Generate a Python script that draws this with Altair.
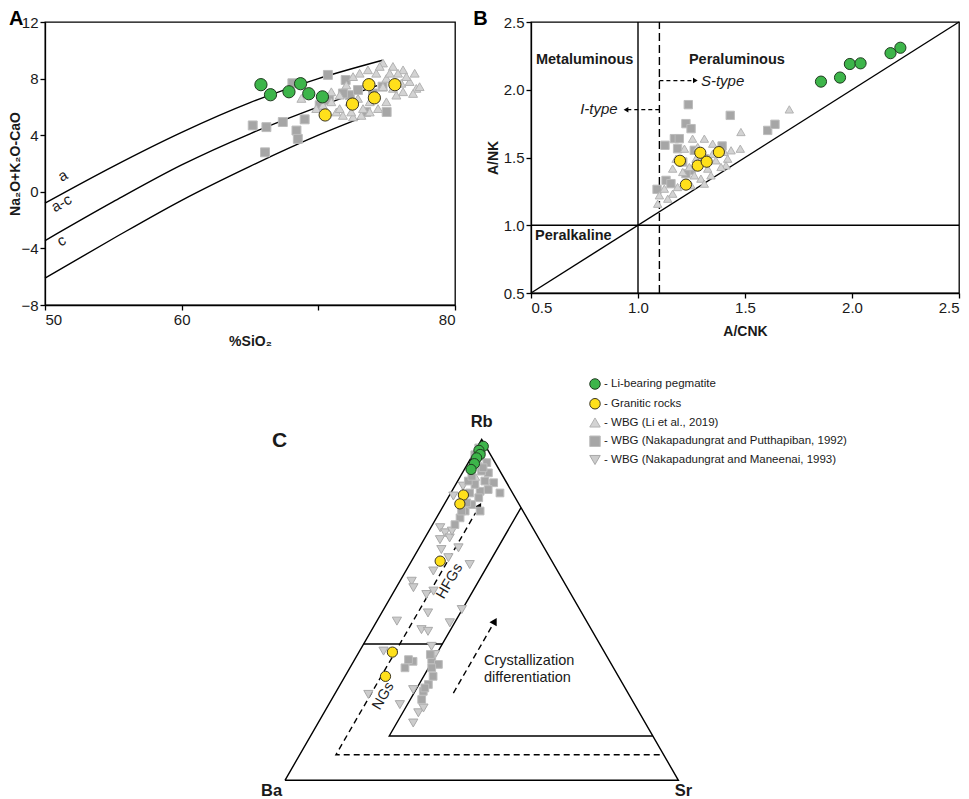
import altair as alt
import pandas as pd

FONT = "Liberation Sans"

GROUPS = ["Li-bearing pegmatite", "Granitic rocks", "WBG (Li et al., 2019)",
          "WBG (Nakapadungrat and Putthapiban, 1992)", "WBG (Nakapadungrat and Maneenai, 1993)"]
FILLS = ["#3db54a", "#ffe01b", "#d3d3d3", "#a6a6a6", "#cccccc"]
STROKES = ["#1f3a1f", "#3b3520", "#b3b3b3", "#bdbdbd", "#a9a9a9"]
SHAPES = ["circle", "circle", "triangle-up", "square", "triangle-down"]

# ---------------- Panel A : MALI vs SiO2 ----------------
A_PEG_SIO2 = [65.8, 66.5, 67.85, 68.7, 69.3, 70.3]
A_PEG_MALI = [7.57, 6.86, 7.07, 7.64, 6.93, 6.71]
A_GRAN_SIO2 = [70.5, 72.5, 73.7, 74.1, 75.6]
A_GRAN_MALI = [5.43, 6.2, 7.57, 6.64, 7.57]
A_PUT_SIO2 = [65.2, 66.2, 67.4, 68.4, 68.5, 69.0, 66.1, 70.7, 68.1, 72.0, 72.3, 72.9, 71.8,
              70.1, 70.8, 73.5, 74.7, 75.0, 74.0]
A_PUT_MALI = [4.69, 4.57, 4.93, 4.33, 3.74, 5.12, 2.79, 8.26, 7.67, 7.9, 6.83, 7.19, 6.95,
              6.12, 6.48, 5.64, 7.43, 5.64, 6.95]
A_LI_SIO2 = [74.73, 75.46, 76.20, 77.05, 76.68, 77.17, 76.20, 75.71, 74.98, 74.24, 73.63, 73.02,
             72.54, 72.05, 71.56, 70.95, 70.34, 69.85, 71.32, 71.80, 72.54, 73.15, 73.76, 74.37,
             74.98, 75.46, 76.44, 75.83, 72.90, 72.29, 70.95, 68.76, 74.49, 75.22, 77.41, 76.93,
             73.76, 73.27, 71.56, 70.59, 72.41, 74.73, 76.07]
A_LI_MALI = [9.10, 8.86, 8.62, 8.38, 7.79, 7.31, 7.07, 6.83, 8.02, 8.38, 8.62, 8.38,
             8.14, 7.55, 6.83, 6.36, 6.12, 5.88, 5.64, 5.40, 5.29, 5.40, 5.64, 5.88,
             6.36, 7.31, 8.14, 8.38, 6.60, 6.36, 7.07, 6.60, 8.86, 8.38, 7.43, 6.95,
             6.36, 5.88, 5.88, 5.64, 5.64, 7.43, 7.67]
LINE_A_SIO2 = [50, 55, 60, 65, 70, 74.7]
LINE_A_MALI = [-0.8, 1.8, 4.2, 6.3, 8.0, 9.3]
LINE_AC_SIO2 = [50, 55, 60, 65, 70, 74.3]
LINE_AC_MALI = [-3.45, -0.7, 1.9, 4.1, 6.0, 7.5]
LINE_C_SIO2 = [50, 55, 60, 65, 70, 73.6]
LINE_C_MALI = [-6.1, -3.3, -0.6, 1.8, 4.0, 5.4]
A_LINE_LABELS = ["a", "a-c", "c"]
A_LABEL_SIO2 = [51.3, 51.2, 51.2]
A_LABEL_MALI = [1.15, -0.8, -3.45]

# ---------------- Panel B : A/NK vs A/CNK ----------------
B_PEG_ACNK = [1.855, 1.944, 1.99, 2.04, 2.18, 2.226]
B_PEG_ANK = [2.06, 2.09, 2.19, 2.195, 2.27, 2.31]
B_GRAN_ACNK = [1.196, 1.224, 1.291, 1.279, 1.321, 1.378]
B_GRAN_ANK = [1.476, 1.30, 1.535, 1.44, 1.469, 1.54]
B_PUT_ACNK = [1.235, 1.431, 1.224, 1.248, 1.170, 1.193, 1.126, 1.606, 1.640, 1.089, 1.131,
              1.393, 1.185, 1.248, 1.154, 1.209, 1.310, 1.263, 1.224]
B_PUT_ANK = [1.89, 1.811, 1.750, 1.713, 1.639, 1.639, 1.590, 1.700, 1.745, 1.265, 1.331,
             1.585, 1.565, 1.405, 1.307, 1.467, 1.491, 1.553, 1.381]
B_LI_ACNK = [1.707, 1.481, 1.478, 1.092, 1.100, 1.123, 1.162, 1.162, 1.178, 1.217, 1.255, 1.310,
             1.349, 1.403, 1.419, 1.411, 1.341, 1.294, 1.263, 1.209, 1.326, 1.364, 1.271, 1.240,
             1.139, 1.185, 1.310, 1.388, 1.435, 1.279, 1.248, 1.349]
B_LI_ANK = [1.855, 1.688, 1.565, 1.159, 1.221, 1.270, 1.233, 1.418, 1.491, 1.565, 1.639, 1.639,
            1.602, 1.541, 1.491, 1.442, 1.368, 1.344, 1.368, 1.393, 1.418, 1.479, 1.491, 1.430,
            1.196, 1.282, 1.307, 1.430, 1.553, 1.578, 1.295, 1.528]
B_REGIONS = ["Metaluminous", "Peraluminous", "Peralkaline"]
B_REGION_X = [0.523, 1.238, 0.519]
B_REGION_Y = [2.217, 2.217, 0.918]

# ---------------- Panel C : Rb-Ba-Sr ternary (percent) ----------------
C_PEG_RB = [98.0, 96.8, 95.6, 94.6, 92.9, 91.2]
C_PEG_SR = [1.4, 0.9, 1.8, 1.4, 1.7, 1.7]
C_GRAN_RB = [83.7, 81.1, 64.3, 37.6, 30.5]
C_GRAN_SR = [3.5, 3.9, 7.3, 8.5, 10.3]
C_LI_RB = [97.0, 95.0, 93.0, 91.0, 89.0, 88.0, 86.0, 92.0]
C_LI_SR = [1.5, 2.5, 3.0, 5.5, 4.0, 7.5, 8.5, 1.0]
C_PUT_RB = [97.5, 95.5, 93.6, 93.2, 90.2, 87.3, 84.3, 85.3, 84.8, 86.8, 87.8, 84.3, 82.9, 79.0,
            79.0, 77.0, 75.0, 80.9, 87.8, 90.7, 91.7, 81.4, 79.0, 89.2,
            33.0, 34.9, 35.4, 35.4, 34.0, 30.5, 28.1, 26.1, 23.7, 27.1, 33.0, 36.9]
C_PUT_SR = [0.5, 0.5, 1.9, 4.7, 6.6, 9.4, 12.5, 9.0, 7.2, 4.9, 2.7, 4.8, 7.8, 10.1,
            6.3, 6.0, 5.7, 7.0, 6.9, 4.6, 4.5, 5.5, 5.4, 2.9,
            14.0, 15.1, 13.7, 19.6, 22.0, 22.4, 22.4, 22.1, 22.9, 22.0, 20.8, 18.5]
C_MAN_RB = [86.3, 83.4, 74.1, 72.6, 71.1, 68.2, 67.7, 65.3, 61.4, 63.3, 58.4, 56.5, 54.5, 49.1,
            46.7, 44.2, 43.7, 46.2, 50.1, 39.3, 36.9, 37.9, 26.6, 22.2, 25.2, 19.8, 16.8, 21.2,
            55.5, 73.1, 70.6]
C_MAN_SR = [2.1, 1.1, 2.4, 4.4, 6.3, 10.0, 5.9, 8.9, 7.0, 15.3, 3.0, 4.4, 8.7, 11.8,
            5.1, 12.6, 14.5, 18.8, 19.9, 17.6, 19.7, 6.1, 19.3, 18.1, 8.6, 24.0, 24.2, 24.6,
            10.0, 5.9, 4.1]
# field boundaries (Rb %, Sr %)
C_SOLID = {"outer": [(0, 0), (100, 0), (0, 100), (0, 0)],
           "inner": [(80, 20), (13, 20), (13, 87)],
           "divide": [(40, 0), (40, 20)]}
C_DASHED = {"trend": [(7.5, 91.5), (7.5, 9.2), (78.5, 9.2)],
            "cryst": [(25.6, 30.0), (45.0, 30.0)]}
C_HEADS_RB = [80.4, 46.7]
C_HEADS_SR = [9.2, 30.0]

# ---------------- shared encodings ----------------
FILL_SCALE = alt.Scale(domain=GROUPS, range=FILLS)
STROKE_SCALE = alt.Scale(domain=GROUPS, range=STROKES)
SHAPE_SCALE = alt.Scale(domain=GROUPS, range=SHAPES)
LEGEND = alt.Legend(title=None, orient="none", legendX=544, legendY=356, labelFont=FONT,
                    labelFontSize=11.5, labelColor="#1a1a1a", labelExpr="'- ' + datum.label",
                    labelLimit=500, labelOffset=3, symbolSize=110, symbolStrokeWidth=1,
                    rowPadding=3.75, padding=0)


def pts(xs, ys, group):
    return pd.DataFrame({"x": xs, "y": ys, "group": group})


def scatter(df, xenc, yenc, size):
    return alt.Chart(df).mark_point(filled=True, opacity=1, strokeWidth=1).encode(
        x=xenc, y=yenc,
        fill=alt.Fill("group:N", scale=FILL_SCALE, legend=LEGEND),
        stroke=alt.Stroke("group:N", scale=STROKE_SCALE, legend=LEGEND),
        shape=alt.Shape("group:N", scale=SHAPE_SCALE, legend=LEGEND),
        size=alt.value(size),
    )


# ---------------- Panel A ----------------
XA = alt.X("x:Q", scale=alt.Scale(domain=[50, 80], nice=False, zero=False),
           axis=alt.Axis(values=[50, 60, 70, 80], labelExpr="datum.value == 70 ? '' : datum.label",
                         title="%SiO₂", titlePadding=7))
YA = alt.Y("y:Q", scale=alt.Scale(domain=[-8, 12], nice=False, zero=False),
           axis=alt.Axis(values=[-8, -4, 0, 4, 8, 12], title="Na₂O+K₂O-CaO", titlePadding=-2))

lines_a = pd.concat([
    pd.DataFrame({"x": LINE_A_SIO2, "y": LINE_A_MALI, "line": "a"}),
    pd.DataFrame({"x": LINE_AC_SIO2, "y": LINE_AC_MALI, "line": "a-c"}),
    pd.DataFrame({"x": LINE_C_SIO2, "y": LINE_C_MALI, "line": "c"}),
])
a_lines = alt.Chart(lines_a).mark_line(color="black", strokeWidth=1.4, interpolate="monotone").encode(
    x=XA, y=YA, detail="line:N")
a_labels = alt.Chart(pd.DataFrame({"x": A_LABEL_SIO2, "y": A_LABEL_MALI, "t": A_LINE_LABELS})).mark_text(
    fontSize=15, angle=331, color="#1a1a1a", font=FONT).encode(x=XA, y=YA, text="t:N")
a_gray = scatter(pd.concat([pts(A_PUT_SIO2, A_PUT_MALI, GROUPS[3]),
                            pts(A_LI_SIO2, A_LI_MALI, GROUPS[2])]), XA, YA, 80)
a_col = scatter(pd.concat([pts(A_GRAN_SIO2, A_GRAN_MALI, GROUPS[1]),
                           pts(A_PEG_SIO2, A_PEG_MALI, GROUPS[0])]), XA, YA, 150)
panel_a = alt.layer(a_lines, a_labels, a_gray, a_col).properties(
    width=410, height=283,
    title=alt.TitleParams("A", anchor="start", fontSize=20, fontWeight="bold", font=FONT, offset=-14))

# ---------------- Panel B ----------------
XB = alt.X("x:Q", scale=alt.Scale(domain=[0.5, 2.5], nice=False, zero=False),
           axis=alt.Axis(values=[0.5, 1.0, 1.5, 2.0, 2.5], format=".1f", title="A/CNK", titlePadding=9))
YB = alt.Y("y:Q", scale=alt.Scale(domain=[0.5, 2.5], nice=False, zero=False),
           axis=alt.Axis(values=[0.5, 1.0, 1.5, 2.0, 2.5], format=".1f", title="A/NK", titlePadding=3))

solid_b = pd.DataFrame({"x": [1.0, 0.5, 0.5], "y": [0.5, 1.0, 0.5], "x2": [1.0, 2.5, 2.5], "y2": [2.5, 1.0, 2.5]})
dash_b = pd.DataFrame({"x": [1.1], "y": [0.5], "x2": [1.1], "y2": [2.5]})
arrow_b = pd.DataFrame({"x": [0.95, 1.1], "y": [1.853, 2.068], "x2": [1.1, 1.26], "y2": [1.853, 2.068]})
heads_b = pd.DataFrame({"x": [0.944, 1.268], "y": [1.853, 2.068], "s": ["triangle-left", "triangle-right"]})

b_solid = alt.Chart(solid_b).mark_rule(color="black", strokeWidth=1.4).encode(x=XB, y=YB, x2="x2:Q", y2="y2:Q")
b_dash = alt.Chart(dash_b).mark_rule(color="black", strokeWidth=1.4, strokeDash=[8, 4]).encode(
    x=XB, y=YB, x2="x2:Q", y2="y2:Q")
b_arrow = alt.Chart(arrow_b).mark_rule(color="black", strokeWidth=1.3, strokeDash=[4, 3]).encode(
    x=XB, y=YB, x2="x2:Q", y2="y2:Q")
b_heads = alt.Chart(heads_b).mark_point(filled=True, color="black", opacity=1, size=30).encode(
    x=XB, y=YB, shape=alt.Shape("s:N", scale=None))
b_regions = alt.Chart(pd.DataFrame({"x": B_REGION_X, "y": B_REGION_Y, "t": B_REGIONS})).mark_text(
    align="left", baseline="middle", fontSize=14.5, fontWeight="bold", color="#1a1a1a", font=FONT).encode(
    x=XB, y=YB, text="t:N")
b_itype = alt.Chart(pd.DataFrame({"x": [0.905], "y": [1.856], "t": ["I-type"]})).mark_text(
    align="right", baseline="middle", fontSize=15, fontStyle="italic", color="#1a1a1a", font=FONT).encode(
    x=XB, y=YB, text="t:N")
b_stype = alt.Chart(pd.DataFrame({"x": [1.294], "y": [2.068], "t": ["S-type"]})).mark_text(
    align="left", baseline="middle", fontSize=15, fontStyle="italic", color="#1a1a1a", font=FONT).encode(
    x=XB, y=YB, text="t:N")
b_gray = scatter(pd.concat([pts(B_PUT_ACNK, B_PUT_ANK, GROUPS[3]),
                            pts(B_LI_ACNK, B_LI_ANK, GROUPS[2])]), XB, YB, 70)
b_col = scatter(pd.concat([pts(B_GRAN_ACNK, B_GRAN_ANK, GROUPS[1]),
                           pts(B_PEG_ACNK, B_PEG_ANK, GROUPS[0])]), XB, YB, 125)
panel_b = alt.layer(b_solid, b_dash, b_arrow, b_heads, b_regions, b_itype, b_stype, b_gray, b_col).properties(
    width=428, height=271,
    title=alt.TitleParams("B", anchor="start", fontSize=20, fontWeight="bold", font=FONT, offset=-14, dx=-13))

# ---------------- Panel C ----------------
XC = alt.X("tx:Q", scale=alt.Scale(domain=[-0.61, 1.06], nice=False, zero=False), axis=None)
YC = alt.Y("ty:Q", scale=alt.Scale(domain=[-0.045, 1.073], nice=False, zero=False), axis=None)


def tern(df):
    return alt.Chart(df).transform_calculate(
        tx="(datum.Sr + datum.Rb / 2) / 100", ty="datum.Rb / 100 * sqrt(3) / 2")


def tpts(rb, sr, group):
    d = pd.DataFrame({"Rb": rb, "Sr": sr, "group": group})
    d["Ba"] = 100 - d["Rb"] - d["Sr"]
    return d


def polylines(spec):
    rows = []
    for name, verts in spec.items():
        for i, (rb, sr) in enumerate(verts):
            rows.append({"seg": name, "ord": i, "Rb": rb, "Sr": sr})
    return pd.DataFrame(rows)


c_solid = tern(polylines(C_SOLID)).mark_line(color="black", strokeWidth=1.4).encode(
    x=XC, y=YC, detail="seg:N", order="ord:Q")
c_dash = tern(polylines(C_DASHED)).mark_line(color="black", strokeWidth=1.4, strokeDash=[6, 4]).encode(
    x=XC, y=YC, detail="seg:N", order="ord:Q")
c_heads = tern(pd.DataFrame({"Rb": C_HEADS_RB, "Sr": C_HEADS_SR})).mark_point(
    shape="triangle-up", angle=30, filled=True, color="black", opacity=1, size=70).encode(x=XC, y=YC)


def scatter_c(df, size):
    return tern(df).mark_point(filled=True, opacity=1, strokeWidth=1).encode(
        x=XC, y=YC,
        fill=alt.Fill("group:N", scale=FILL_SCALE, legend=LEGEND),
        stroke=alt.Stroke("group:N", scale=STROKE_SCALE, legend=LEGEND),
        shape=alt.Shape("group:N", scale=SHAPE_SCALE, legend=LEGEND),
        size=alt.value(size),
    )


c_li = scatter_c(tpts(C_LI_RB, C_LI_SR, GROUPS[2]), 60)
c_man = scatter_c(tpts(C_MAN_RB, C_MAN_SR, GROUPS[4]), 85)
c_put = scatter_c(tpts(C_PUT_RB, C_PUT_SR, GROUPS[3]), 60)
c_col = scatter_c(pd.concat([tpts(C_GRAN_RB, C_GRAN_SR, GROUPS[1]),
                             tpts(C_PEG_RB, C_PEG_SR, GROUPS[0])]), 105)

c_vertex = tern(pd.DataFrame({"Rb": [105.0, -3.2, -3.2], "Sr": [-2.5, -1.8, 102.9],
                              "t": ["Rb", "Ba", "Sr"]})).mark_text(
    fontSize=16.5, fontWeight="bold", color="#1a1a1a", font=FONT).encode(x=XC, y=YC, text="t:N")
c_letter = tern(pd.DataFrame({"Rb": [99.5], "Sr": [-51.1], "t": ["C"]})).mark_text(
    fontSize=21, fontWeight="bold", color="#1a1a1a", font=FONT).encode(x=XC, y=YC, text="t:N")
c_fields = tern(pd.DataFrame({"Rb": [58.4, 24.7], "Sr": [12.7, 12.7], "t": ["HFGs", "NGs"]})).mark_text(
    fontSize=14.5, angle=300, color="#1a1a1a", font=FONT).encode(x=XC, y=YC, text="t:N")
c_cryst = tern(pd.DataFrame({"Rb": [34.9, 30.0], "Sr": [33.15, 35.6],
                             "t": ["Crystallization", "differentiation"]})).mark_text(
    fontSize=14.5, align="left", baseline="middle", color="#1a1a1a", font=FONT).encode(x=XC, y=YC, text="t:N")

panel_c = alt.layer(c_solid, c_dash, c_heads, c_li, c_man, c_put, c_col,
                    c_vertex, c_letter, c_fields, c_cryst).properties(
    width=657, height=440, view=alt.ViewBackground(stroke="transparent"))

chart = alt.vconcat(
    alt.hconcat(panel_a, panel_b, spacing=15),
    panel_c, spacing=8,
).properties(padding=0).configure(font=FONT).configure_view(
    stroke="black", strokeWidth=1.3
).configure_axis(
    domainColor="black", domainWidth=1.3, tickColor="black", tickWidth=1.3, tickSize=5,
    labelFont=FONT, labelFontSize=15, labelColor="#1a1a1a", labelPadding=2,
    titleFont=FONT, titleFontSize=14, titleFontWeight="bold", titleColor="#1a1a1a", grid=False,
)

chart.save("out.html", embed_options={"renderer": "svg", "actions": False})
